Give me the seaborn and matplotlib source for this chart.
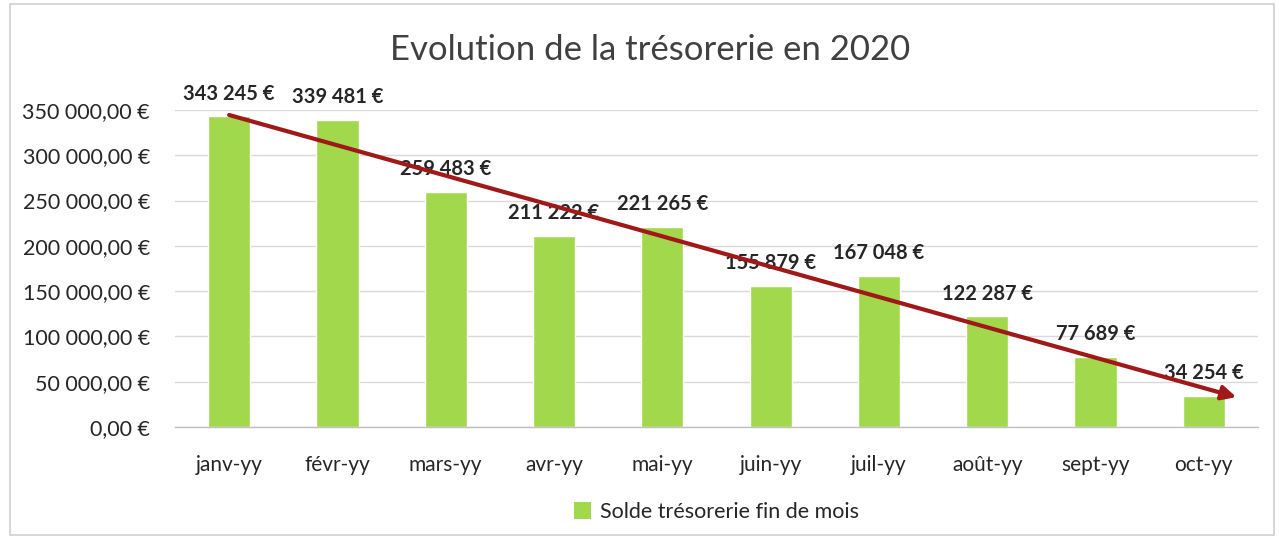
import matplotlib
matplotlib.use("Agg")
import matplotlib.pyplot as plt
import seaborn as sns
import pandas as pd
from matplotlib.patches import Patch, Rectangle

months = ["janv-yy", "févr-yy", "mars-yy", "avr-yy", "mai-yy",
          "juin-yy", "juil-yy", "août-yy", "sept-yy", "oct-yy"]
values = [343245, 339481, 259483, 211222, 221265,
          155879, 167048, 122287, 77689, 34254]
series_name = "Solde trésorerie fin de mois"
title = "Evolution de la trésorerie en 2020"
y_ticks = [0, 50000, 100000, 150000, 200000, 250000, 300000, 350000]

sns.set_theme(style="white")
plt.rcParams['font.family'] = ['Lato', 'DejaVu Sans']

bar_color = "#a2d94c"
text_color = "#262626"

df = pd.DataFrame({"mois": months, "solde": values})

fig = plt.figure(figsize=(12.79, 5.39), dpi=100)
ax = fig.add_axes([0.1368, 0.2078, 0.9836 - 0.1368, 0.7959 - 0.2078])

sns.barplot(data=df, x="mois", y="solde", color=bar_color, width=0.39,
            saturation=1, ax=ax, zorder=3)

def fmt_money(v, dec=False):
    if dec:
        s = f"{v:,.2f}".replace(",", " ").replace(".", ",")
    else:
        s = f"{int(v):,}".replace(",", " ")
    return s + " €"

ax.set_ylim(0, 350000)
ax.set_xlim(-0.5, len(months) - 0.5)
ax.set_yticks(y_ticks)
ax.set_yticklabels([fmt_money(v, dec=True) for v in y_ticks],
                   fontsize=15.5, color=text_color)
ax.set_xticks(range(len(months)))
ax.set_xticklabels(months, fontsize=15, color=text_color)
ax.tick_params(axis='x', which='major', length=0, pad=20)
ax.tick_params(axis='y', length=0, pad=18)
ax.set_xticks([i - 0.5 for i in range(len(months) + 1)], minor=True)
ax.tick_params(axis='x', which='minor', length=5, color="#bfbfbf", width=1)
ax.set_xlabel("")
ax.set_ylabel("")

ax.yaxis.grid(True, color="#d9d9d9", linewidth=1, zorder=0)
ax.set_axisbelow(True)
for side in ["top", "right", "left"]:
    ax.spines[side].set_visible(False)
ax.spines["bottom"].set_color("#bfbfbf")
ax.spines["bottom"].set_linewidth(1)
ax.spines["bottom"].set_zorder(4)

for i, v in enumerate(values):
    ax.annotate(fmt_money(v), (i, v), xytext=(0, 9), textcoords="offset points",
                ha="center", va="bottom", fontsize=14.5, fontweight="bold",
                color=text_color, zorder=6, annotation_clip=False)

# hand-drawn trend arrow
ax.annotate("", xy=(9.3, 33000), xytext=(0.0, 344500),
            arrowprops=dict(arrowstyle="-|>,head_length=0.7,head_width=0.35",
                            color="#a01818", lw=3, shrinkA=0, shrinkB=0),
            zorder=7, annotation_clip=False)

fig.text(0.508, 0.907, title, ha="center", va="center", fontsize=25,
         color="#404040")

handle = Patch(facecolor=bar_color, edgecolor="none", label=series_name)
fig.legend(handles=[handle], loc="center", bbox_to_anchor=(0.56, 0.05),
           frameon=False, fontsize=15.5, handlelength=0.8, handleheight=0.8,
           handletextpad=0.4, labelcolor=text_color)

fig.patches.append(Rectangle((0.008, 0.008), 0.988, 0.984, transform=fig.transFigure,
                             fill=False, edgecolor="#d0d0d0", linewidth=1.2))

fig.savefig("out.png", dpi=100)
